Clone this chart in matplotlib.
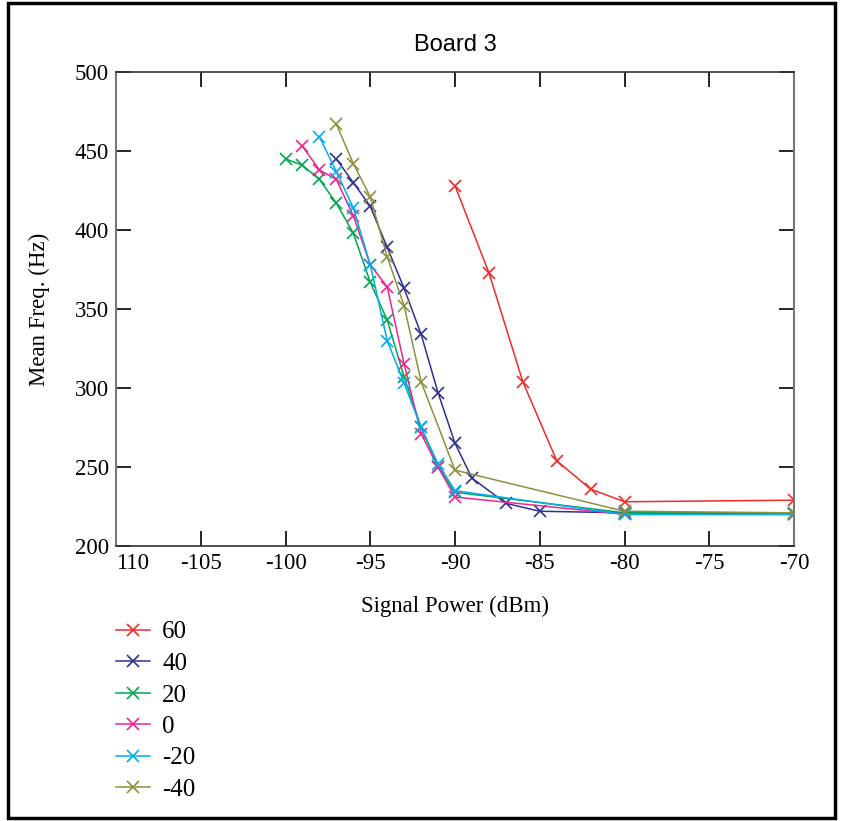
import matplotlib
matplotlib.use("Agg")
import matplotlib.pyplot as plt
from matplotlib.patches import Rectangle

# Data
labels = ["60", "40", "20", "0", "-20", "-40"]
x_60 = [-90, -88, -86, -84, -82, -80, -70]
y_60 = [428, 373, 304, 254, 236, 228, 229]
x_40 = [-97, -96, -95, -94, -93, -92, -91, -90, -89, -87, -85, -80, -70]
y_40 = [445, 430, 415, 389, 363, 334, 297, 265, 243, 227, 222, 221, 220]
x_20 = [-100, -99, -98, -97, -96, -95, -94, -93, -92, -91, -90, -80, -70]
y_20 = [445, 441, 432, 417, 398, 367, 343, 307, 275, 250, 234, 221, 221]
x_0 = [-99, -98, -97, -96, -95, -94, -93, -92, -91, -90, -80, -70]
y_0 = [453, 438, 432, 409, 378, 364, 315, 271, 250, 231, 220, 220]
x_m20 = [-98, -97, -96, -95, -94, -93, -92, -91, -90, -80, -70]
y_m20 = [459, 437, 414, 378, 330, 303, 275, 252, 235, 220, 220]
x_m40 = [-97, -96, -95, -94, -93, -92, -90, -80, -70]
y_m40 = [467, 442, 421, 383, 352, 304, 248, 222, 221]

series_x = [x_60, x_40, x_20, x_0, x_m20, x_m40]
series_y = [y_60, y_40, y_20, y_0, y_m20, y_m40]
colors = ["#ee2a2a", "#2e3192", "#00a651", "#ec268f", "#00aeef", "#8f8f3c"]

x_ticks = [-110, -105, -100, -95, -90, -85, -80, -75, -70]
x_ticklabels = ["110", "-105", "-100", "-95", "-90", "-85", "-80", "-75", "-70"]
y_ticks = [200, 250, 300, 350, 400, 450, 500]

W, H = 841, 821
fig = plt.figure(figsize=(W / 100, H / 100), dpi=100)
fig.patch.set_facecolor("white")

serif = "Liberation Serif"

ax = fig.add_axes([116 / W, 1 - 546 / H, (794 - 116) / W, (546 - 72) / H])
lines = []
for xs, ys, c, lab in zip(series_x, series_y, colors, labels):
    ln, = ax.plot(xs, ys, color=c, marker="x", markersize=9, markeredgewidth=1.2,
                  linewidth=1.1, label=lab)
    lines.append(ln)

ax.set_xlim(-110, -70)
ax.set_ylim(200, 500)
ax.set_xticks(x_ticks)
ax.set_xticklabels(x_ticklabels, fontfamily=serif, fontsize=16.5)
ax.get_xticklabels()[0].set_horizontalalignment("left")
ax.set_yticks(y_ticks)
ax.set_yticklabels([str(v) for v in y_ticks], fontfamily=serif, fontsize=16.5)
ax.tick_params(axis="both", direction="in", length=11, width=1.2, top=True, right=True)
ax.tick_params(axis="x", pad=5)
ax.tick_params(axis="y", pad=5)
for side in ["left", "right"]:
    ax.spines[side].set_color("#777777")
    ax.spines[side].set_linewidth(1.5)
for side in ["top", "bottom"]:
    ax.spines[side].set_color("#333333")
    ax.spines[side].set_linewidth(1.2)
for t in ax.yaxis.get_ticklines():
    t.set_color("#777777")

ax.set_title("Board 3", fontfamily="Liberation Sans", fontsize=17, pad=15)
ax.set_xlabel("Signal Power (dBm)", fontfamily=serif, fontsize=16.5, labelpad=16)
ax.set_ylabel("Mean Freq. (Hz)", fontfamily=serif, fontsize=16.5)
ax.yaxis.set_label_coords(-0.098, 0.5)

fig.legend(handles=lines, labels=labels, loc="upper left",
           bbox_to_anchor=(106 / W, 1 - 611 / H), frameon=False,
           prop={"family": serif, "size": 18}, handlelength=1.35,
           labelspacing=0.36, handletextpad=0.5, borderaxespad=0)

fig.patches.append(Rectangle((8 / W, 3 / H), (835 - 8) / W, (818 - 3) / H,
                             transform=fig.transFigure, fill=False,
                             edgecolor="black", linewidth=2.5))

fig.savefig("out.png", dpi=100)
